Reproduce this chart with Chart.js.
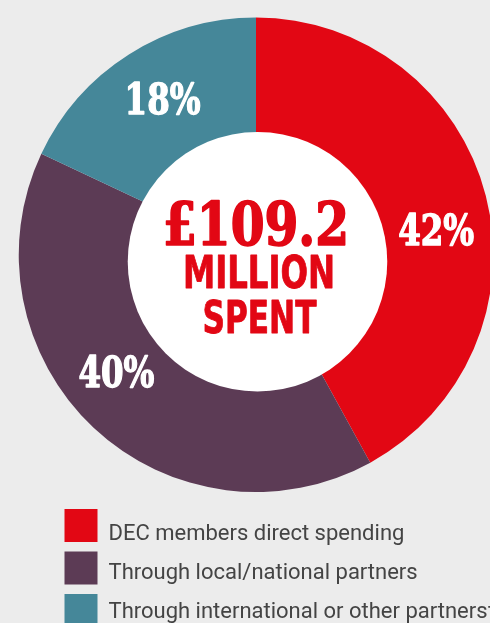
<!DOCTYPE html>
<html>
<head>
<meta charset="utf-8">
<script src="https://cdn.jsdelivr.net/npm/chart.js@4/dist/chart.umd.min.js"></script>
<style>
  html, body { margin: 0; padding: 0; background: #ececec; overflow: hidden; }
  #wrap { position: absolute; left: 0; top: 0; width: 520px; height: 623px; }
</style>
</head>
<body>
<div id="wrap"><canvas id="spendChart"></canvas></div>
<script>
"use strict";

// 1: data
const categories = [
  "DEC members direct spending",
  "Through local/national partners",
  "Through international or other partners\u2020"
];
const shares = [42, 40, 18];
const totalLines = ["\u00a3109.2", "MILLION", "SPENT"];

const colours = ["#e20714", "#5c3b55", "#458799"];

// heavy text: fill plus a thin stroke in the same colour
function heavyText(ctx, text, x, y, maxWidth, weight) {
  ctx.lineWidth = weight;
  ctx.lineJoin = "round";
  ctx.strokeStyle = ctx.fillStyle;
  ctx.strokeText(text, x, y, maxWidth);
  ctx.fillText(text, x, y, maxWidth);
}

// 2: white hub with the total, plus the percentage on each slice
const hubPlugin = {
  id: "hub",
  afterDatasetsDraw(chart) {
    const ctx = chart.ctx;
    const arcs = chart.getDatasetMeta(0).data;
    const { x, y, outerRadius } = arcs[0];
    ctx.save();

    // the hub sits a little below the ring's centre
    ctx.fillStyle = "#ffffff";
    ctx.beginPath();
    ctx.arc(x + 1.5, y + 7, outerRadius * 0.547, 0, Math.PI * 2);
    ctx.fill();

    ctx.textAlign = "center";
    ctx.textBaseline = "alphabetic";
    ctx.fillStyle = "#e20714";
    ctx.font = 'bold 59px "DejaVu Serif Condensed", "DejaVu Serif", serif';
    heavyText(ctx, totalLines[0], x, y - 9.5, 186, 1.6);
    ctx.font = 'bold 44px "Liberation Sans Narrow", "DejaVu Sans Condensed", sans-serif';
    heavyText(ctx, totalLines[1], x + 3, y + 33.5, 152, 0.8);
    heavyText(ctx, totalLines[2], x + 3.5, y + 78.5, 114, 0.8);

    // slice labels, nudged along the ring a few degrees
    const nudge = [6.4, 6.9, 1.5];
    ctx.fillStyle = "#ffffff";
    ctx.font = 'bold 43px "DejaVu Serif Condensed", "DejaVu Serif", serif';
    arcs.forEach((a, i) => {
      const mid = (a.startAngle + a.endAngle) / 2 + nudge[i] * Math.PI / 180;
      const r = a.outerRadius * 0.767;
      const px = a.x + Math.cos(mid) * r;
      const py = a.y + Math.sin(mid) * r;
      heavyText(ctx, shares[i] + "%", px, py + 15.5, 76, 1.3);
    });
    ctx.restore();
  },
  // legend underneath, square swatches
  afterDraw(chart) {
    const ctx = chart.ctx;
    const ds = chart.data.datasets[0];
    ctx.save();
    ctx.font = '22px Roboto, "Liberation Sans", sans-serif';
    ctx.textAlign = "left";
    ctx.textBaseline = "alphabetic";
    chart.data.labels.forEach((label, i) => {
      ctx.fillStyle = ds.backgroundColor[i];
      ctx.fillRect(64.5, 509 + i * 42.5, 33, 33);
      ctx.fillStyle = "#444444";
      ctx.fillText(label, 108.5, 540 + i * 39);
    });
    ctx.restore();
  }
};

// 3: create the chart
const chart = new Chart(document.getElementById("spendChart"), {
  type: "pie",
  data: {
    labels: categories,
    datasets: [{
      data: shares,
      backgroundColor: colours,
      borderWidth: 0
    }]
  },
  options: {
    responsive: true,
    maintainAspectRatio: false,
    animation: false,
    layout: {
      padding: { left: 18.5, top: 17.5, right: 26.5, bottom: 131 }
    },
    plugins: {
      legend: { display: false },
      tooltip: { enabled: false }
    }
  },
  plugins: [hubPlugin]
});
</script>
</body>
</html>
